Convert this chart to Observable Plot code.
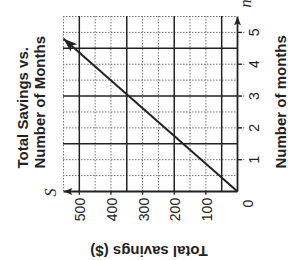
<!DOCTYPE html>
<html><head><meta charset="utf-8">
<script src="https://cdn.jsdelivr.net/npm/d3@7"></script>
<script src="https://cdn.jsdelivr.net/npm/@observablehq/plot@0.6"></script>
<style>html,body{margin:0;padding:0;background:#fff;overflow:hidden}</style>
</head><body><div id="chart"></div>
<script>
// ---- data ----
const titleLines = ["Total Savings vs.", "Number of Months"];
const monthsLabel = "Number of months";
const savingsLabel = "Total savings ($)";
const monthVar = "n";
const savingsVar = "S";
const monthTicks = [1, 2, 3, 4, 5];
const savingsTicks = [100, 200, 300, 400, 500];
const monthGridMinor = [0.5, 1, 2, 2.5, 3.5, 4, 5, 5.5];
const monthGridMajor = [1.5, 3, 4.5];
const savingsGridMinor = [100, 150, 250, 300, 400, 450, 550];
const savingsGridMajor = [50, 200, 350, 500];
const monthMax = 5.5;
const savingsMax = 550;
const lineMonths = [0, 4.8];
const lineSavings = [0, 550];

const sans = "Liberation Sans, Arial, Helvetica, sans-serif";
const serif = "Liberation Serif, Times New Roman, serif";
const ink = "#222";

const dataLine = [{x1: lineSavings[0], y1: lineMonths[0], x2: lineSavings[1], y2: lineMonths[1]}];
const axes = [
  {x1: 0, y1: 0, x2: savingsMax, y2: 0},
  {x1: 0, y1: 0, x2: 0, y2: monthMax}
];

const svg = Plot.plot({
  width: 288,
  height: 260,
  marginLeft: 63,
  marginRight: 51,
  marginTop: 16,
  marginBottom: 69,
  x: {domain: [0, savingsMax], reverse: true, axis: null},
  y: {domain: [0, monthMax], axis: null},
  style: {background: "#fff", fontFamily: sans, overflow: "visible"},
  marks: [
    Plot.ruleX(savingsGridMinor, {x: d => d, stroke: "#777", strokeWidth: 1, strokeDasharray: "1.5,1.5"}),
    Plot.ruleY(monthGridMinor, {y: d => d, stroke: "#777", strokeWidth: 1, strokeDasharray: "1.5,1.5"}),
    Plot.ruleY(monthTicks, {y: d => d, x1: 0, x2: -28, stroke: "#777", strokeWidth: 1, strokeDasharray: "1.5,1.5"}),
    Plot.ruleY(monthTicks, {y: d => d, x1: 0, x2: -16, stroke: ink, strokeWidth: 1.3}),
    Plot.ruleX(savingsTicks, {x: d => d, y1: 0, y2: -0.12, stroke: ink, strokeWidth: 1.3}),
    Plot.ruleX(savingsGridMajor, {x: d => d, stroke: ink, strokeWidth: 1.5}),
    Plot.ruleY(monthGridMajor, {y: d => d, stroke: ink, strokeWidth: 1.5}),
    Plot.link(axes, {x1: "x1", y1: "y1", x2: "x2", y2: "y2", stroke: ink, strokeWidth: 1.8}),
    Plot.link(dataLine, {x1: "x1", y1: "y1", x2: "x2", y2: "y2", stroke: ink, strokeWidth: 2}),
    // savings tick labels
    Plot.text(savingsTicks, {x: d => d, y: 0, text: d => String(d), rotate: -90, dx: 1.5, dy: 18, fontSize: 14, fill: ink}),
    // month tick labels
    Plot.text(monthTicks, {x: 0, y: d => d, text: d => String(d), rotate: -90, dx: 17, fontSize: 14, fill: ink}),
    Plot.text(["0"], {x: 0, y: 0, text: d => d, rotate: -90, dx: 11, dy: 12, fontSize: 14, fill: ink}),
    // variable names
    Plot.text([savingsVar], {x: savingsMax, y: 0, text: d => d, rotate: -90, dx: -13, dy: 1, fontSize: 16, fontStyle: "italic", fontFamily: serif, fill: ink}),
    Plot.text([monthVar], {x: 0, y: monthMax, text: d => d, rotate: -90, dx: 8.5, dy: -13, fontSize: 16, fontStyle: "italic", fontFamily: serif, fill: ink}),
    // titles
    Plot.text([titleLines[0]], {frameAnchor: "bottom-left", text: d => d, rotate: -90, textAnchor: "start", dx: -36, dy: -23, fontSize: 15, fontWeight: "bold", fill: ink}),
    Plot.text([titleLines[1]], {frameAnchor: "bottom-left", text: d => d, rotate: -90, textAnchor: "start", dx: -19, dy: -23, fontSize: 15, fontWeight: "bold", fill: ink}),
    Plot.text([monthsLabel], {frameAnchor: "bottom-right", text: d => d, rotate: -90, textAnchor: "start", dx: 48, dy: -23, fontSize: 15, fontWeight: "bold", fill: ink}),
    Plot.text([savingsLabel], {frameAnchor: "bottom", text: d => d, rotate: 180, dx: -1.5, dy: 54, fontSize: 15, fontWeight: "bold", fill: ink})
  ]
});

// filled arrowheads on the link paths (2 axes, then the data line)
const paths = Array.from(svg.querySelectorAll("path"));
const sel = d3.select(svg);
const defs = sel.insert("defs", ":first-child");
function addMarker(id, len, wid) {
  defs.append("marker")
    .attr("id", id)
    .attr("markerUnits", "userSpaceOnUse")
    .attr("viewBox", `0 0 ${len} ${wid}`)
    .attr("refX", len).attr("refY", wid / 2)
    .attr("markerWidth", len).attr("markerHeight", wid)
    .attr("orient", "auto")
    .append("path")
    .attr("d", `M0,0L${len},${wid / 2}L0,${wid}L${len * 0.25},${wid / 2}Z`)
    .attr("fill", ink)
    .attr("stroke", "none");
}
addMarker("headData", 14, 10);
addMarker("headAxis", 9, 7);
paths.forEach((p, i) => {
  p.setAttribute("marker-end", i === paths.length - 1 ? "url(#headData)" : "url(#headAxis)");
});

document.getElementById("chart").appendChild(svg);
</script>
</body></html>
